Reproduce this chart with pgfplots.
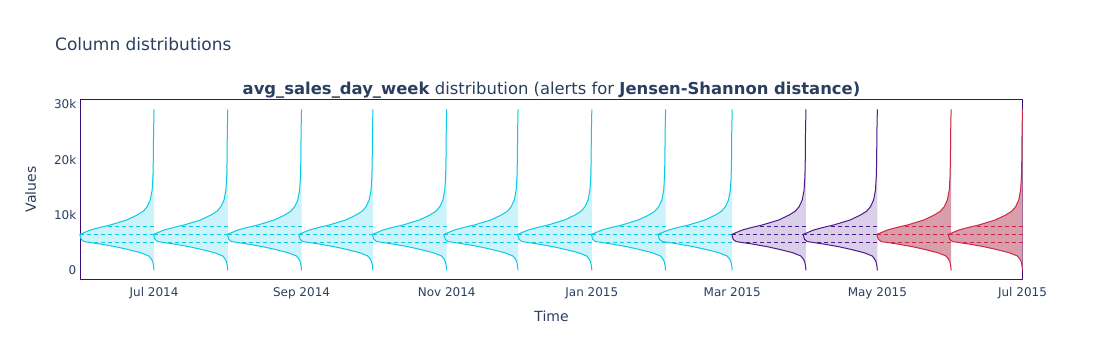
\documentclass[border=0pt]{standalone}
\usepackage{fontspec}
\setmainfont{DejaVu Sans}
\usepackage{pgfplots}
\usepackage{pgfplotstable}
\pgfplotsset{compat=1.18}

\definecolor{txt}{RGB}{42,63,95}
\definecolor{frame}{RGB}{58,12,120}
\definecolor{cyanL}{RGB}{10,202,230}
\definecolor{cyanF}{RGB}{205,243,250}
\definecolor{purL}{RGB}{80,25,140}
\definecolor{purF}{RGB}{217,207,232}
\definecolor{redL}{RGB}{205,40,70}
\definecolor{redF}{RGB}{216,158,172}

% half-violin outline: value v, width w (days, to the left of the month start)
\pgfplotstableread{
v w
0 0
800 0.2
1550 0.55
2100 1.2
2600 2.2
3200 5.7
3800 11.3
4280 16.3
4760 22.6
5200 29.4
5600 30.6
6500 31.2
7290 26.8
7780 22.6
8200 18.4
9100 11.5
10000 7.1
10700 4.5
11500 2.9
12700 1.6
14500 0.8
17000 0.45
20000 0.3
25000 0.2
29100 0
}\profile

% quartile segments (Q1, median, Q3)
\pgfplotstableread{
v w
5040 0
5040 26
nan 0
6450 0
6450 31
nan 0
8000 0
8000 19.5
}\quart

\begin{document}
\begin{tikzpicture}
\useasboundingbox (0,0) rectangle (1102pt,360pt);
\begin{axis}[
  at={(80.5pt,80.5pt)}, anchor=south west,
  scale only axis, width=942pt, height=180pt,
  xmin=-0.9, xmax=395, ymin=-1660, ymax=30900,
  axis line style={draw=frame, line width=1.1pt},
  major tick length=0pt, tick style={draw=none},
  xtick={30,92,153,214,273,334,395},
  xticklabels={Jul 2014,Sep 2014,Nov 2014,Jan 2015,Mar 2015,May 2015,Jul 2015},
  ytick={0,10000,20000,30000},
  yticklabels={0,10k,20k,30k},
  scaled y ticks=false,
  ticklabel style={font=\fontsize{12}{14}\selectfont, text=txt, inner sep=0pt},
  xticklabel style={anchor=base, yshift=-17pt},
  yticklabel style={anchor=east, xshift=-4pt},
  xlabel={Time}, ylabel={Values},
  label style={font=\fontsize{14}{16}\selectfont, text=txt, inner sep=0pt},
  xlabel style={at={(axis description cs:0.5,-0.2306)}, anchor=base},
  ylabel style={at={(axis description cs:-0.04724,0.5)}, anchor=base, rotate=0},
  clip=false,
  unbounded coords=jump,
  line join=round,
]
\pgfplotsinvokeforeach{30,61,92,122,153,183,214,245,273}{
  \addplot[draw=cyanL, fill=cyanF, line width=1pt] table[x expr={#1-\thisrow{w}}, y=v] {\profile};
  \addplot[draw=cyanL, line width=1pt, dash pattern=on 4pt off 3pt] table[x expr={#1-\thisrow{w}}, y=v] {\quart};
}
\pgfplotsinvokeforeach{304,334}{
  \addplot[draw=purL, fill=purF, line width=1pt] table[x expr={#1-\thisrow{w}}, y=v] {\profile};
  \addplot[draw=purL, line width=1pt, dash pattern=on 4pt off 3pt] table[x expr={#1-\thisrow{w}}, y=v] {\quart};
}
\pgfplotsinvokeforeach{365,395}{
  \addplot[draw=redL, fill=redF, line width=1pt] table[x expr={#1-\thisrow{w}}, y=v] {\profile};
  \addplot[draw=redL, line width=1pt, dash pattern=on 4pt off 3pt] table[x expr={#1-\thisrow{w}}, y=v] {\quart};
}
\end{axis}
\node[anchor=base west, inner sep=0pt, text=txt, font=\fontsize{17}{20}\selectfont] at (55pt,309.3pt) {Column distributions};
\node[anchor=base, inner sep=0pt, text=txt, font=\fontsize{16.4}{19}\selectfont] at (551.5pt,266pt) {\textbf{avg\_sales\_day\_week} distribution (alerts for \textbf{Jensen-Shannon distance)}};
\end{tikzpicture}
\end{document}
